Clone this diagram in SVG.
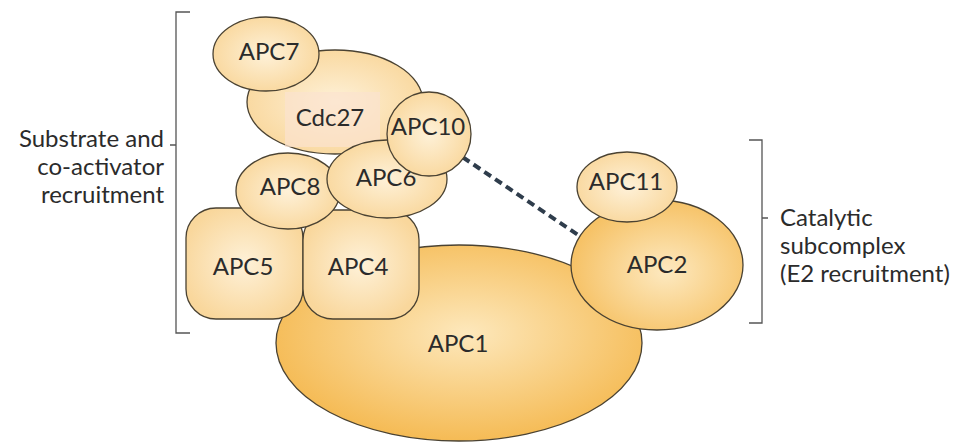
<svg xmlns="http://www.w3.org/2000/svg" width="958" height="443" viewBox="0 0 958 443">
<defs>
<radialGradient id="gLight" cx="50%" cy="50%" r="55%">
<stop offset="0" stop-color="#fef1d8"/>
<stop offset="1" stop-color="#f9d79c"/>
</radialGradient>
<radialGradient id="gDark" cx="52%" cy="45%" r="55%">
<stop offset="0" stop-color="#fde8bc"/>
<stop offset="1" stop-color="#f5bb55"/>
</radialGradient>
<radialGradient id="gMid" cx="55%" cy="55%" r="55%">
<stop offset="0" stop-color="#fde9c0"/>
<stop offset="1" stop-color="#f6c266"/>
</radialGradient>
<style>
.n{stroke:#4a4232;stroke-width:1.3}
.l{fill:url(#gLight)}
.t{font-family:Lato,"Liberation Sans",sans-serif;font-size:24px;fill:#2b2b2b;text-anchor:middle}
.lab{font-family:Lato,"Liberation Sans",sans-serif;font-size:24px;fill:#2b2b2b}
.br{fill:none;stroke:#555;stroke-width:1.3}
</style>
</defs>
<g id="brackets">
<path class="br" d="M190,12 H176 V333 H190 M176,145 H170"/>
<path class="br" d="M749,140 H762 V323 H749 M762,218 H768"/>
</g>
<g id="connectors">
<line x1="452" y1="150" x2="590" y2="243" stroke="#2f3d4c" stroke-width="4" stroke-dasharray="8,5"/>
</g>
<g id="APC1"><ellipse class="n" cx="459" cy="343" rx="183" ry="98" fill="url(#gDark)"/><text class="t" x="458" y="352">APC1</text></g>
<g id="APC2"><ellipse class="n" cx="657" cy="265" rx="86" ry="65" fill="url(#gMid)"/><text class="t" x="657" y="273">APC2</text></g>
<g id="APC11"><ellipse class="n l" cx="627" cy="187" rx="50" ry="35"/><text class="t" x="626" y="190">APC11</text></g>
<g id="APC5"><rect class="n l" x="186" y="208" width="117" height="111" rx="30"/><text class="t" x="243" y="275">APC5</text></g>
<g id="APC4"><rect class="n l" x="303" y="210" width="116" height="109" rx="30"/><text class="t" x="358" y="275">APC4</text></g>
<g id="Cdc27"><ellipse class="n l" cx="335" cy="102" rx="88" ry="52"/><rect x="285" y="92" width="95" height="55" fill="#fbe3cf" opacity="0.7"/><text class="t" x="330" y="126">Cdc27</text></g>
<g id="APC7"><ellipse class="n l" cx="266" cy="54" rx="53" ry="37"/><text class="t" x="269" y="60">APC7</text></g>
<g id="APC8"><ellipse class="n l" cx="288" cy="191" rx="52" ry="38"/><text class="t" x="290" y="195">APC8</text></g>
<g id="APC6"><ellipse class="n l" cx="387" cy="179" rx="60" ry="39"/><text class="t" x="386" y="186">APC6</text></g>
<g id="APC10"><ellipse class="n l" cx="429" cy="134" rx="42" ry="42"/><text class="t" x="428" y="135">APC10</text></g>
<g id="labels">
<text class="lab" text-anchor="end" x="164" y="147">Substrate and</text>
<text class="lab" text-anchor="end" x="164" y="175">co-activator</text>
<text class="lab" text-anchor="end" x="164" y="203">recruitment</text>
<text class="lab" x="780" y="226">Catalytic</text>
<text class="lab" x="780" y="254">subcomplex</text>
<text class="lab" x="780" y="282">(E2 recruitment)</text>
</g>
</svg>
